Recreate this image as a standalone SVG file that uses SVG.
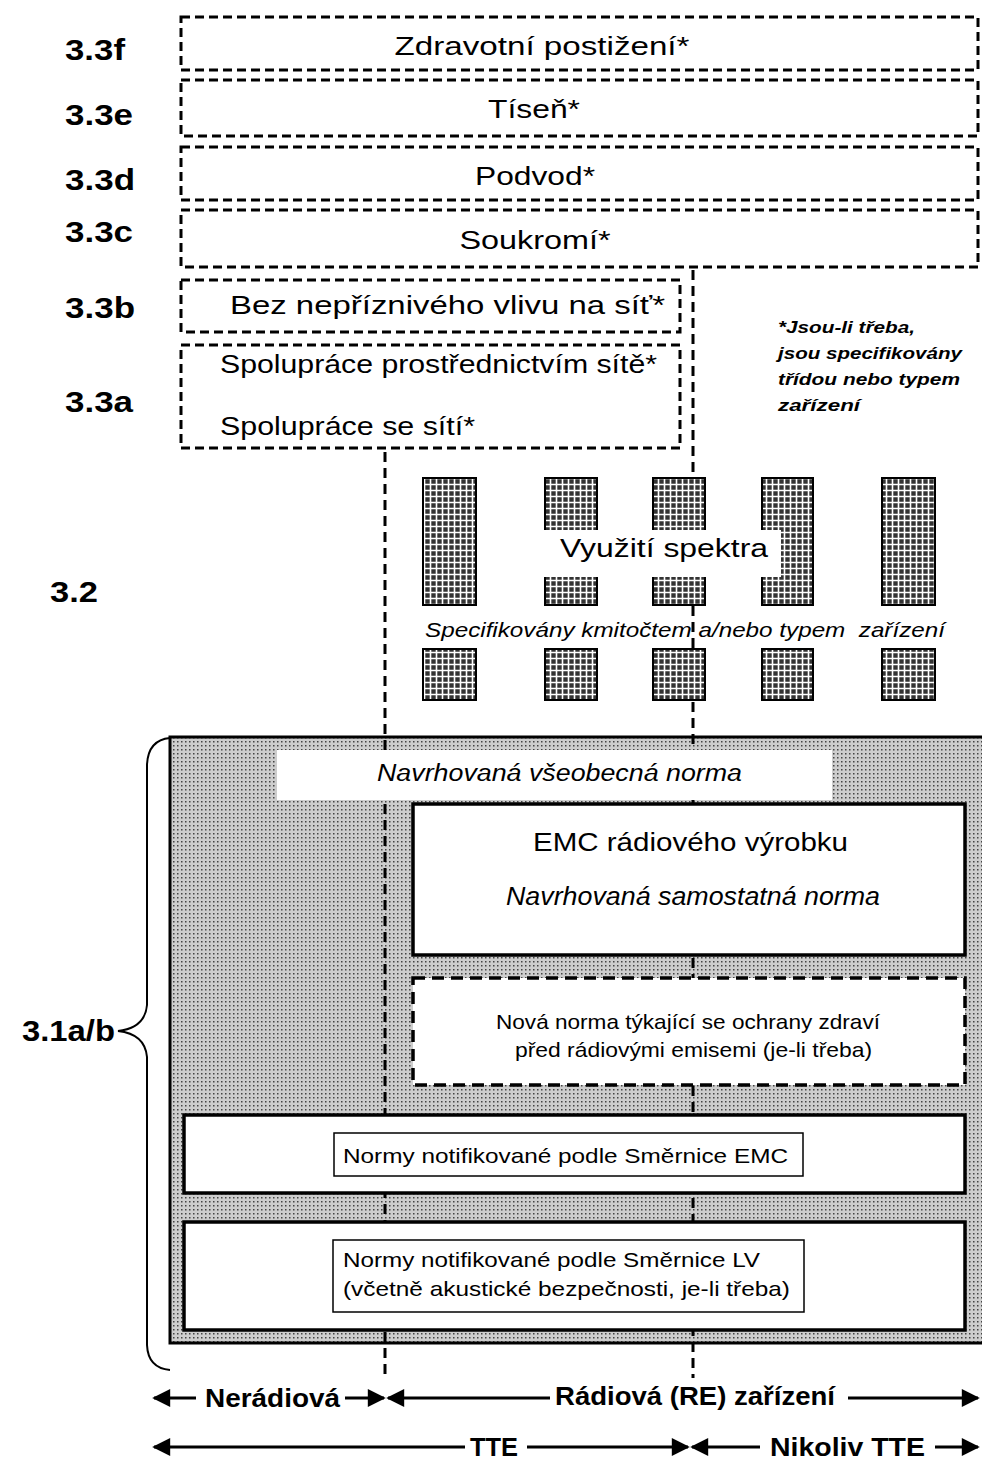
<svg xmlns="http://www.w3.org/2000/svg" width="982" height="1459" viewBox="0 0 982 1459">
<defs>
<pattern id="grid" width="6" height="6" patternUnits="userSpaceOnUse">
<rect width="6" height="6" fill="#333"/>
<path d="M0 4.5H6M4.5 0V6" stroke="#fff" stroke-width="1.6"/>
</pattern>
<pattern id="stip" width="4" height="4" patternUnits="userSpaceOnUse">
<rect width="4" height="4" fill="#cdcdcd"/>
<rect x="1" y="1" width="1.5" height="1.5" fill="#444"/>
</pattern>
<marker id="ah" viewBox="0 0 10 10" refX="9" refY="5" markerWidth="6.5" markerHeight="6" orient="auto-start-reverse" markerUnits="strokeWidth">
<path d="M0 0L10 5L0 10z" fill="#000"/>
</marker>
<style>
.t{font-family:"Liberation Sans",Arial,sans-serif;fill:#000}
.lbl{font-family:"Liberation Sans",Arial,sans-serif;font-weight:bold;font-size:30px;fill:#000}
.dbox{fill:none;stroke:#000;stroke-width:3;stroke-dasharray:9 5}
.vline{stroke:#000;stroke-width:3;stroke-dasharray:10 6;fill:none}
.sbox{fill:#fff;stroke:#000;stroke-width:3.5}
.ibox{fill:#fff;stroke:#000;stroke-width:1.5}
.blk{fill:url(#grid);stroke:#000;stroke-width:2}
.arr{stroke:#000;stroke-width:3;fill:none}
</style>
</defs>

<g id="labels">
<text class="lbl" x="65" y="60" textLength="60" lengthAdjust="spacingAndGlyphs">3.3f</text>
<text class="lbl" x="65" y="125" textLength="68" lengthAdjust="spacingAndGlyphs">3.3e</text>
<text class="lbl" x="65" y="190" textLength="70" lengthAdjust="spacingAndGlyphs">3.3d</text>
<text class="lbl" x="65" y="242" textLength="68" lengthAdjust="spacingAndGlyphs">3.3c</text>
<text class="lbl" x="65" y="318" textLength="70" lengthAdjust="spacingAndGlyphs">3.3b</text>
<text class="lbl" x="65" y="412" textLength="68" lengthAdjust="spacingAndGlyphs">3.3a</text>
<text class="lbl" x="50" y="602" textLength="48" lengthAdjust="spacingAndGlyphs">3.2</text>
<text class="lbl" x="22" y="1041" textLength="93" lengthAdjust="spacingAndGlyphs">3.1a/b</text>
</g>

<g id="gray-area">
<rect x="170" y="737" width="815" height="606" fill="url(#stip)" stroke="#000" stroke-width="3"/>
</g>

<g id="connectors">
<line class="vline" x1="385" y1="452" x2="385" y2="1378"/>
<line class="vline" x1="693" y1="270" x2="693" y2="1378"/>
</g>

<g id="box-3-3f">
<rect class="dbox" x="181" y="17" width="797" height="53"/>
<text class="t" x="542" y="55" font-size="26" text-anchor="middle" textLength="295" lengthAdjust="spacingAndGlyphs">Zdravotní postižení*</text>
</g>
<g id="box-3-3e">
<rect class="dbox" x="181" y="80" width="797" height="56"/>
<text class="t" x="534" y="118" font-size="26" text-anchor="middle" textLength="92" lengthAdjust="spacingAndGlyphs">Tíseň*</text>
</g>
<g id="box-3-3d">
<rect class="dbox" x="181" y="147" width="797" height="53"/>
<text class="t" x="535" y="185" font-size="26" text-anchor="middle" textLength="120" lengthAdjust="spacingAndGlyphs">Podvod*</text>
</g>
<g id="box-3-3c">
<rect class="dbox" x="181" y="210" width="797" height="57"/>
<text class="t" x="535" y="249" font-size="26" text-anchor="middle" textLength="151" lengthAdjust="spacingAndGlyphs">Soukromí*</text>
</g>
<g id="box-3-3b">
<rect class="dbox" x="181" y="280" width="499" height="52"/>
<text class="t" x="230" y="314" font-size="26" textLength="435" lengthAdjust="spacingAndGlyphs">Bez nepříznivého vlivu na síť*</text>
</g>
<g id="box-3-3a">
<rect class="dbox" x="181" y="345" width="499" height="103"/>
<text class="t" x="220" y="373" font-size="26" textLength="437" lengthAdjust="spacingAndGlyphs">Spolupráce prostřednictvím sítě*</text>
<text class="t" x="220" y="435" font-size="26" textLength="255" lengthAdjust="spacingAndGlyphs">Spolupráce se sítí*</text>
</g>

<g id="note">
<text class="t" x="778" y="333" font-size="17" font-style="italic" font-weight="bold" textLength="137" lengthAdjust="spacingAndGlyphs">*Jsou-li třeba,</text>
<text class="t" x="778" y="359" font-size="17" font-style="italic" font-weight="bold" textLength="184" lengthAdjust="spacingAndGlyphs">jsou specifikovány</text>
<text class="t" x="778" y="385" font-size="17" font-style="italic" font-weight="bold" textLength="182" lengthAdjust="spacingAndGlyphs">třídou nebo typem</text>
<text class="t" x="778" y="411" font-size="17" font-style="italic" font-weight="bold" textLength="82" lengthAdjust="spacingAndGlyphs">zařízení</text>
</g>

<g id="spectrum">
<rect class="blk" x="423" y="478" width="53" height="127"/>
<rect class="blk" x="545" y="478" width="52" height="127"/>
<rect class="blk" x="653" y="478" width="52" height="127"/>
<rect class="blk" x="762" y="478" width="51" height="127"/>
<rect class="blk" x="882" y="478" width="53" height="127"/>
<rect class="blk" x="423" y="649" width="53" height="51"/>
<rect class="blk" x="545" y="649" width="52" height="51"/>
<rect class="blk" x="653" y="649" width="52" height="51"/>
<rect class="blk" x="762" y="649" width="51" height="51"/>
<rect class="blk" x="882" y="649" width="53" height="51"/>
<rect x="543" y="530" width="238" height="47" fill="#fff"/>
<text class="t" x="560" y="557" font-size="26" textLength="208" lengthAdjust="spacingAndGlyphs">Využití spektra</text>
<text class="t" x="425" y="637" font-size="21" font-style="italic" xml:space="preserve" textLength="520" lengthAdjust="spacingAndGlyphs">Specifikovány kmitočtem a/nebo typem  zařízení</text>
</g>

<g id="general-norm">
<rect x="277" y="750" width="555" height="50" fill="#fff"/>
<text class="t" x="377" y="781" font-size="23" font-style="italic" textLength="365" lengthAdjust="spacingAndGlyphs">Navrhovaná všeobecná norma</text>
</g>

<g id="emc-radio">
<rect class="sbox" x="413" y="804" width="552" height="151"/>
<text class="t" x="533" y="851" font-size="25" textLength="315" lengthAdjust="spacingAndGlyphs">EMC rádiového výrobku</text>
<text class="t" x="506" y="905" font-size="25" font-style="italic" textLength="374" lengthAdjust="spacingAndGlyphs">Navrhovaná samostatná norma</text>
</g>

<g id="health-norm">
<rect x="413" y="978" width="552" height="107" fill="#fff" stroke="#000" stroke-width="3.5" stroke-dasharray="12 7"/>
<text class="t" x="496" y="1029" font-size="21" textLength="384" lengthAdjust="spacingAndGlyphs">Nová norma týkající se ochrany zdraví</text>
<text class="t" x="515" y="1057" font-size="21" textLength="357" lengthAdjust="spacingAndGlyphs">před rádiovými emisemi (je-li třeba)</text>
</g>

<g id="emc-directive">
<rect class="sbox" x="184" y="1115" width="781" height="78"/>
<rect class="ibox" x="334" y="1133" width="469" height="43"/>
<text class="t" x="343" y="1163" font-size="21" textLength="445" lengthAdjust="spacingAndGlyphs">Normy notifikované podle Směrnice EMC</text>
</g>

<g id="lv-directive">
<rect class="sbox" x="184" y="1222" width="781" height="108"/>
<rect class="ibox" x="333" y="1240" width="471" height="72"/>
<text class="t" x="343" y="1267" font-size="21" textLength="417" lengthAdjust="spacingAndGlyphs">Normy notifikované podle Směrnice LV</text>
<text class="t" x="343" y="1296" font-size="21" textLength="447" lengthAdjust="spacingAndGlyphs">(včetně akustické bezpečnosti, je-li třeba)</text>
</g>

<g id="brace">
<path d="M170 738 Q148 740 147 765 L147 1005 Q145 1028 118 1031 Q145 1034 147 1057 L147 1345 Q148 1368 170 1370" fill="none" stroke="#000" stroke-width="2"/>
</g>

<g id="scope-arrows">
<line class="arr" x1="196" y1="1398" x2="154" y2="1398" marker-end="url(#ah)"/>
<line class="arr" x1="345" y1="1398" x2="384" y2="1398" marker-end="url(#ah)"/>
<line class="arr" x1="550" y1="1398" x2="388" y2="1398" marker-end="url(#ah)"/>
<line class="arr" x1="848" y1="1398" x2="978" y2="1398" marker-end="url(#ah)"/>
<line class="arr" x1="465" y1="1447" x2="154" y2="1447" marker-end="url(#ah)"/>
<line class="arr" x1="527" y1="1447" x2="688" y2="1447" marker-end="url(#ah)"/>
<line class="arr" x1="760" y1="1447" x2="692" y2="1447" marker-end="url(#ah)"/>
<line class="arr" x1="935" y1="1447" x2="978" y2="1447" marker-end="url(#ah)"/>
<text class="t" x="205" y="1407" font-size="25" font-weight="bold" textLength="135" lengthAdjust="spacingAndGlyphs">Nerádiová</text>
<text class="t" x="555" y="1405" font-size="25" font-weight="bold" textLength="280" lengthAdjust="spacingAndGlyphs">Rádiová (RE) zařízení</text>
<text class="t" x="470" y="1456" font-size="25" font-weight="bold" textLength="48" lengthAdjust="spacingAndGlyphs">TTE</text>
<text class="t" x="770" y="1456" font-size="25" font-weight="bold" textLength="155" lengthAdjust="spacingAndGlyphs">Nikoliv TTE</text>
</g>
</svg>
